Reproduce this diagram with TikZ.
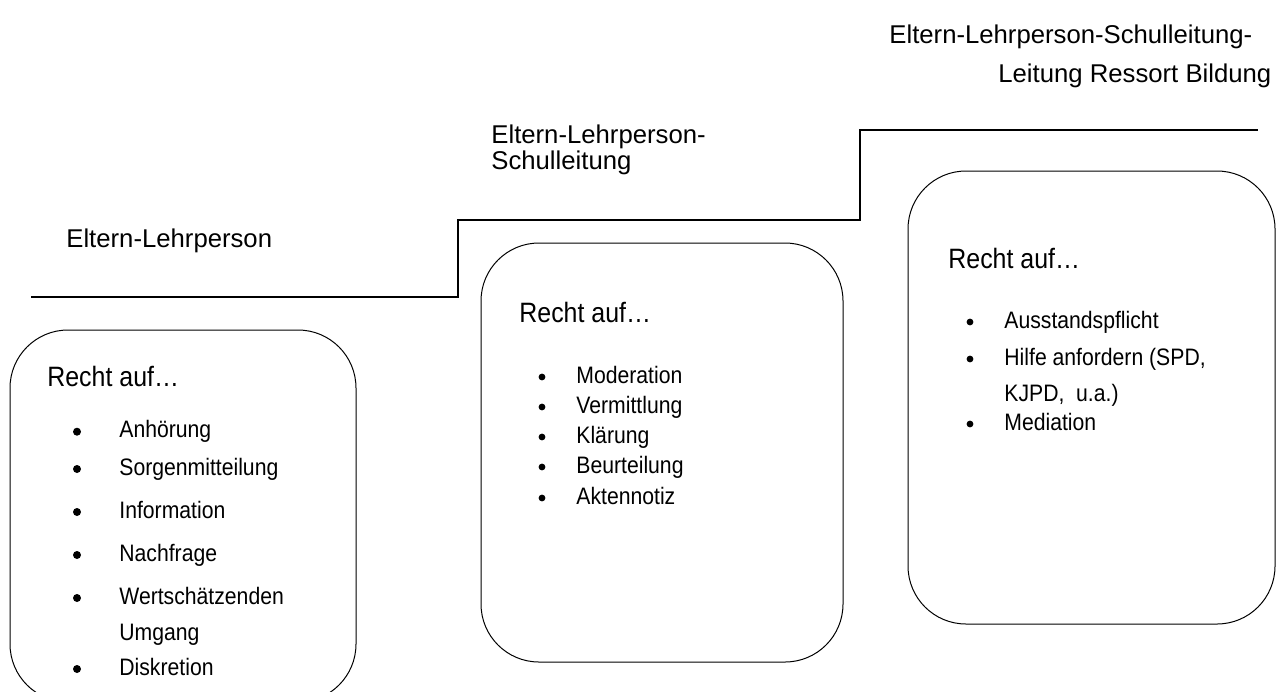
\documentclass[tikz,border=0pt]{standalone}
\usepackage{fontspec}
\setmainfont{Liberation Sans}
\newfontfamily\schmal[FakeStretch=0.89]{Liberation Sans}
\usetikzlibrary{positioning}

\tikzset{
  stufe/.style={line width=0.7pt},
  rbox/.style={draw, line width=0.5pt, rounded corners=29pt},
  titel/.style={anchor=base west, inner sep=0pt, font=\fontsize{12.85}{13}\selectfont},
  recht/.style={anchor=base west, inner sep=0pt, font=\schmal\fontsize{14}{15}\selectfont},
  punkt/.style={anchor=base west, inner sep=0pt, font=\schmal\fontsize{11.9}{13}\selectfont},
}

\begin{document}
\begin{tikzpicture}[x=0.5pt, y=-0.5pt]
      \useasboundingbox (0, 0) rectangle (1278, 691);

      % Treppe
      \draw [stufe] (31, 297) -- (458, 297) -- (458, 220) -- (860, 220) -- (860, 130) -- (1258, 130);

      % Stufentitel
      \node [titel] (t1) at (66, 247) {Eltern-Lehrperson};
      \node [titel, align=left] (t2) at (491, 169) {Eltern-Lehrperson-\\Schulleitung};
      \node [titel] (t3a) at (889, 43) {Eltern-Lehrperson-Schulleitung-};
      \node [titel] (t3b) at (998, 82) {Leitung Ressort Bildung};

      % Box 1
      \draw [rbox] (10, 330) rectangle (356, 702);
      \node [recht] (r1) at (47, 386) {Recht auf…};
      \foreach \y/\txt [count=\i] in {437.7/Anhörung, 475/Sorgenmitteilung, 518/Information,
                                      561/Nachfrage, 604/Wertschätzenden, 675/Diskretion} {
        \fill (77, \y-6) circle [radius=2pt];
        \node [punkt] (a\i) at (119, \y) {\txt};
      }
      \node [punkt] (a7) at (119, 640) {Umgang};

      % Box 2
      \draw [rbox] (481, 243) rectangle (843, 662);
      \node [recht] (r2) at (519, 322) {Recht auf…};
      \foreach \y/\txt [count=\i] in {383/Moderation, 413/Vermittlung, 443/Klärung,
                                      473/Beurteilung, 504/Aktennotiz} {
        \fill (542, \y-6) circle [radius=1.7pt];
        \node [punkt] (b\i) at (576, \y) {\txt};
      }

      % Box 3
      \draw [rbox] (908, 171) rectangle (1275, 624);
      \node [recht] (r3) at (948, 268) {Recht auf…};
      \foreach \y/\txt [count=\i] in {328/Ausstandspflicht, 365/{Hilfe anfordern (SPD,}, 430/Mediation} {
        \fill (970, \y-6) circle [radius=1.7pt];
        \node [punkt] (c\i) at (1004, \y) {\txt};
      }
      \node [punkt] (c4) at (1004, 401) {KJPD,\ \ u.a.)};
    \end{tikzpicture}
\end{document}
